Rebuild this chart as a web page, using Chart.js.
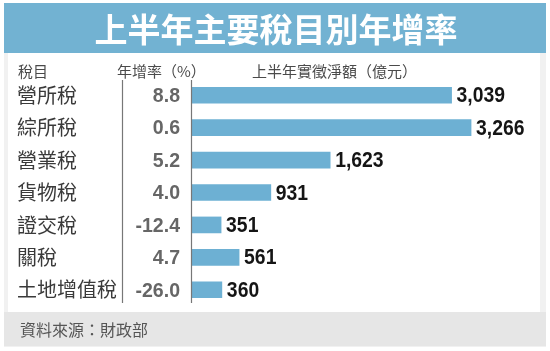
<!DOCTYPE html>
<html>
<head>
<meta charset="utf-8">
<script src="https://cdn.jsdelivr.net/npm/chart.js@4"></script>
<style>
html,body{margin:0;padding:0;background:#fff;}
canvas{display:block;}
</style>
</head>
<body>
<canvas id="c" width="550" height="351"></canvas>
<script>
const titleText = '上半年主要稅目別年增率';
const headerLabels = ['稅目', '年增率（%）', '上半年實徵淨額（億元）'];
const categories = ['營所稅', '綜所稅', '營業稅', '貨物稅', '證交稅', '關稅', '土地增值稅'];
const growthRates = [8.8, 0.6, 5.2, 4.0, -12.4, 4.7, -26.0];
const revenues = [3039, 3266, 1623, 931, 351, 561, 360];
const sourceText = '資料來源：財政部';

const CJK = '"Noto Sans CJK TC", "Noto Sans CJK SC", sans-serif';
const NUM = '"Liberation Sans", Arial, sans-serif';

function condensedText(ctx, text, x, y, align, sx) {
  ctx.save();
  const w = ctx.measureText(text).width * sx;
  const left = align === 'right' ? x - w : x;
  ctx.translate(left, y);
  ctx.scale(sx, 1);
  ctx.textAlign = 'left';
  ctx.fillText(text, 0, 0);
  ctx.restore();
}

const decor = {
  id: 'decor',
  beforeDraw(chart) {
    const ctx = chart.ctx;
    ctx.save();
    ctx.fillStyle = '#ffffff';
    ctx.fillRect(0, 0, chart.width, chart.height);
    ctx.fillStyle = '#f1f1f1';
    ctx.fillRect(4, 53, 542, 294);
    ctx.fillStyle = '#ffffff';
    ctx.fillRect(8, 53, 532, 259);
    ctx.fillStyle = '#e6e6e6';
    ctx.fillRect(4, 312, 542, 34);
    ctx.fillStyle = '#72b2d2';
    ctx.fillRect(4, 3, 542, 50);
    ctx.fillStyle = '#ffffff';
    ctx.font = 'bold 33px ' + CJK;
    ctx.textAlign = 'center';
    ctx.textBaseline = 'middle';
    ctx.fillText(titleText, 276, 29);
    ctx.fillStyle = '#4a4a4a';
    ctx.font = '15px ' + CJK;
    ctx.textAlign = 'left';
    ctx.fillText(headerLabels[0], 18, 71);
    ctx.fillText(headerLabels[1], 117, 71);
    ctx.fillText(headerLabels[2], 252, 71);
    ctx.fillStyle = '#555555';
    ctx.font = '16px ' + CJK;
    ctx.fillText(sourceText, 20, 330);
    ctx.restore();
  },
  afterDatasetsDraw(chart) {
    const ctx = chart.ctx;
    const x = chart.scales.x, y = chart.scales.y;
    const area = chart.chartArea;
    const x0 = Math.round(x.getPixelForValue(0)) + 0.5;
    ctx.save();
    ctx.strokeStyle = '#777777';
    ctx.lineWidth = 1.2;
    ctx.beginPath();
    ctx.moveTo(122.5, area.top + 1);
    ctx.lineTo(122.5, area.bottom - 3);
    ctx.moveTo(x0, area.top + 1);
    ctx.lineTo(x0, area.bottom - 3);
    ctx.stroke();
    ctx.textBaseline = 'middle';
    categories.forEach((cat, i) => {
      const py = y.getPixelForValue(i);
      ctx.fillStyle = '#3a3a3a';
      ctx.font = '20px ' + CJK;
      ctx.textAlign = 'left';
      ctx.fillText(cat, 17, py);
      ctx.fillStyle = '#666666';
      ctx.font = 'bold 21px ' + NUM;
      condensedText(ctx, growthRates[i].toFixed(1), 180, py + 1, 'right', 0.93);
      ctx.fillStyle = '#151515';
      ctx.font = 'bold 22px ' + NUM;
      condensedText(ctx, revenues[i].toLocaleString('en-US'), x.getPixelForValue(revenues[i]) + 5, py + 1, 'left', 0.88);
    });
    ctx.restore();
  }
};

new Chart(document.getElementById('c'), {
  type: 'bar',
  data: {
    labels: categories,
    datasets: [{
      data: revenues,
      backgroundColor: '#6db0d3',
      borderWidth: 0,
      barThickness: 16
    }]
  },
  options: {
    indexAxis: 'y',
    responsive: false,
    animation: false,
    layout: { padding: { left: 191, right: 16, top: 79, bottom: 45 } },
    scales: {
      x: { display: false, min: 0, max: 4000 },
      y: { display: false }
    },
    plugins: {
      legend: { display: false },
      tooltip: { enabled: false },
      title: { display: false }
    }
  },
  plugins: [decor]
});
</script>
</body>
</html>
